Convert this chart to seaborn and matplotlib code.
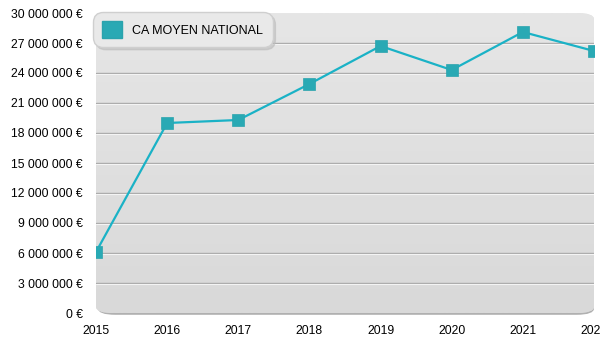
import numpy as np
import pandas as pd
import matplotlib
matplotlib.use("Agg")
import matplotlib.pyplot as plt
import seaborn as sns
from matplotlib.patches import FancyBboxPatch, Rectangle
from matplotlib.colors import LinearSegmentedColormap

years = [2015, 2016, 2017, 2018, 2019, 2020, 2021, 2022]
ca_moyen = [6_100_000, 19_000_000, 19_300_000, 22_900_000, 26_700_000,
            24_300_000, 28_100_000, 26_200_000]
series_label = "CA MOYEN NATIONAL"
y_ticks = list(range(0, 30_000_001, 3_000_000))

df = pd.DataFrame({"annee": years, "ca": ca_moyen})

sns.set_theme(style="white")
plt.rcParams["font.family"] = ["Liberation Sans", "DejaVu Sans"]
plt.rcParams["text.color"] = "black"

fig = plt.figure(figsize=(6, 3.5), dpi=100)
ax = fig.add_axes([96 / 600, 1 - 313 / 350, 498 / 600, 300 / 350])
ax.set_xlim(2015, 2022)
ax.set_ylim(0, 30_000_000)
ax.patch.set_alpha(0)
for s in ax.spines.values():
    s.set_visible(False)

# rounded panel with soft shadow and vertical gradient
shadow = FancyBboxPatch((0.004, -0.006), 0.996, 1.0,
                        boxstyle="round,pad=0,rounding_size=0.035",
                        transform=ax.transAxes, facecolor="#b0b0b0",
                        edgecolor="none", zorder=0, clip_on=False,
                        mutation_aspect=300 / 498)
ax.add_patch(shadow)
panel = FancyBboxPatch((0, 0), 1, 1,
                       boxstyle="round,pad=0,rounding_size=0.035",
                       transform=ax.transAxes, facecolor="#e0e0e0",
                       edgecolor="none", zorder=0.5, clip_on=False,
                       mutation_aspect=300 / 498)
ax.add_patch(panel)
grad = np.linspace(0, 1, 256).reshape(-1, 1)
cmap = LinearSegmentedColormap.from_list("bg", ["#d9d9d9", "#e6e6e6"])
im = ax.imshow(grad, cmap=cmap, aspect="auto", origin="lower",
               extent=[2015, 2022, 0, 30_000_000], zorder=0.6)
im.set_clip_path(panel)

# embossed grid lines
for v in y_ticks[1:-1]:
    ax.axhline(v, color="#a9a9a9", lw=1.0, zorder=1)
    ax.axhline(v - 100_000, color="#f4f4f4", lw=0.8, zorder=1)

sns.lineplot(data=df, x="annee", y="ca", ax=ax, color="#1ab2c6",
             lw=1.6, marker="s", markersize=8.0, markerfacecolor="#29a9b4",
             markeredgecolor="#2aa3ad", markeredgewidth=0.5, zorder=3,
             label=series_label, legend=False)

ax.set_xticks(years)
ax.set_xticklabels([str(y) for y in years], fontsize=8.7)
ax.set_yticks(y_ticks)
ax.set_yticklabels([f"{v:,}".replace(",", " ") + " €" if v else "0 €"
                    for v in y_ticks], fontsize=8.7)
ax.tick_params(axis="y", length=0, pad=9.5, colors="black")
ax.tick_params(axis="x", length=0, pad=9, colors="black")
ax.set_xlabel("")
ax.set_ylabel("")

handle = Rectangle((0, 0), 1, 1, facecolor="#29a9b4", edgecolor="#2aa3ad")
leg = ax.legend([handle], [series_label], loc="upper left",
                bbox_to_anchor=(-0.006, 1.003), fontsize=9, frameon=True,
                fancybox=True, shadow={"color": "#bdbdbd", "alpha": 0.6},
                handlelength=1.6, handleheight=1.6, handletextpad=0.8,
                borderpad=0.75, borderaxespad=0.0, labelcolor="black")
frame = leg.get_frame()
frame.set_facecolor("#e9e9e9")
frame.set_edgecolor("#cfcfcf")
frame.set_alpha(1)
frame.set_boxstyle("round,pad=0,rounding_size=0.8")
leg.set_zorder(5)

fig.savefig("out.png", dpi=100, facecolor="white")
